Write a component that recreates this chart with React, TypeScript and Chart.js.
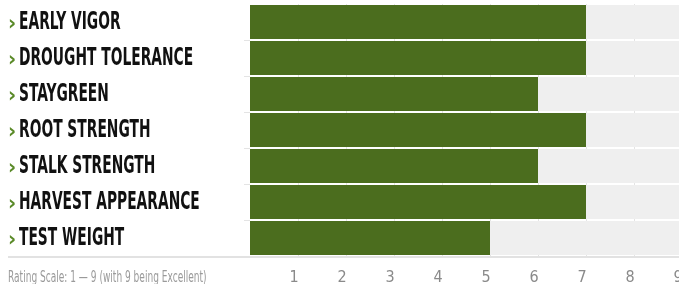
import React, { useEffect, useRef } from "react";
import { Chart, registerables } from "chart.js";

Chart.register(...registerables);

const categories = [
  "EARLY VIGOR",
  "DROUGHT TOLERANCE",
  "STAYGREEN",
  "ROOT STRENGTH",
  "STALK STRENGTH",
  "HARVEST APPEARANCE",
  "TEST WEIGHT",
];
const ratings = [7, 7, 6, 7, 6, 7, 5];
const scaleMax = 9;
const trackValues = categories.map(() => scaleMax);
const tickValues = [1, 2, 3, 4, 5, 6, 7, 8, 9];
const footnote = "Rating Scale: 1 \u2014 9 (with 9 being Excellent)";

const GREEN = "#4b6d1e";
const CHEVRON = "#5a8a28";
const TRACK = "#efefef";
const NARROW = "'Liberation Sans Narrow', 'DejaVu Sans Condensed', 'Roboto Condensed', sans-serif";

const labelPlugin = {
  id: "sideLabels",
  afterDraw(chart: any) {
    const ctx = chart.ctx;
    const yScale = chart.scales.y;
    const area = chart.chartArea;
    ctx.save();
    ctx.strokeStyle = "#e2e2e2";
    ctx.lineWidth = 2;
    ctx.beginPath();
    ctx.moveTo(8, area.bottom + 1);
    ctx.lineTo(chart.width, area.bottom + 1);
    ctx.stroke();
    // short row-boundary ticks left of the plot
    ctx.strokeStyle = "#e4e4e4";
    ctx.lineWidth = 1;
    for (let i = 0; i < categories.length - 1; i++) {
      const yb = (yScale.getPixelForValue(i) + yScale.getPixelForValue(i + 1)) / 2;
      ctx.beginPath();
      ctx.moveTo(area.left - 6, Math.round(yb) + 0.5);
      ctx.lineTo(area.left, Math.round(yb) + 0.5);
      ctx.stroke();
    }
    categories.forEach((label, i) => {
      const py = yScale.getPixelForValue(i);
      ctx.save();
      ctx.textBaseline = "middle";
      ctx.textAlign = "left";
      ctx.translate(8, py + 2);
      ctx.fillStyle = CHEVRON;
      ctx.font = `bold 22px ${NARROW}`;
      ctx.fillText("\u203A", 0, 0);
      ctx.restore();
      ctx.save();
      ctx.textBaseline = "middle";
      ctx.textAlign = "left";
      ctx.translate(19, py + 1);
      ctx.scale(0.64, 1);
      ctx.fillStyle = "#111111";
      ctx.font = `bold 24px ${NARROW}`;
      ctx.fillText(label, 0, 0);
      ctx.restore();
    });
    ctx.save();
    ctx.textBaseline = "alphabetic";
    ctx.textAlign = "left";
    ctx.translate(8, 282);
    ctx.scale(0.67, 1);
    ctx.fillStyle = "#9a9a9a";
    ctx.font = `15px ${NARROW}`;
    ctx.fillText(footnote, 0, 0);
    ctx.restore();
    ctx.restore();
  },
};

export default function App() {
  const ref = useRef<HTMLCanvasElement>(null);
  useEffect(() => {
    document.documentElement.style.overflow = "hidden";
    document.body.style.overflow = "hidden";
    const chart = new Chart(ref.current!, {
      type: "bar",
      data: {
        labels: categories,
        datasets: [
          {
            label: "Rating",
            data: ratings,
            backgroundColor: GREEN,
            barPercentage: 0.944,
            categoryPercentage: 1,
            grouped: false,
            order: 0,
          },
          {
            label: "Scale",
            data: trackValues,
            backgroundColor: TRACK,
            barPercentage: 0.944,
            categoryPercentage: 1,
            grouped: false,
            order: 1,
          },
        ],
      },
      options: {
        indexAxis: "y",
        animation: false,
        responsive: true,
        maintainAspectRatio: false,
        layout: { padding: { top: 4, right: 18, left: 0, bottom: 0 } },
        plugins: { legend: { display: false }, tooltip: { enabled: false } },
        scales: {
          x: {
            min: 0,
            max: scaleMax,
            afterBuildTicks(scale: any) {
              scale.ticks = tickValues.map((v) => ({ value: v }));
            },
            afterFit(scale: any) {
              scale.height = 28;
            },
            ticks: {
              padding: 12,
              labelOffset: -4,
              color: "#8a8a8a",
              font: { family: NARROW, size: 16 },
            },
            grid: { color: "#e4e4e4", drawTicks: false },
            border: { display: false },
          },
          y: {
            afterFit(scale: any) {
              scale.width = 250;
            },
            ticks: { display: false },
            grid: { display: false },
            border: { display: false },
          },
        },
      },
      plugins: [labelPlugin],
    });
    return () => chart.destroy();
  }, []);
  return (
    <div style={{ position: "fixed", left: 0, top: 0, width: 679, height: 284, overflow: "hidden" }}>
      <div style={{ position: "relative", width: 700, height: 284 }}>
        <canvas ref={ref} />
      </div>
    </div>
  );
}
